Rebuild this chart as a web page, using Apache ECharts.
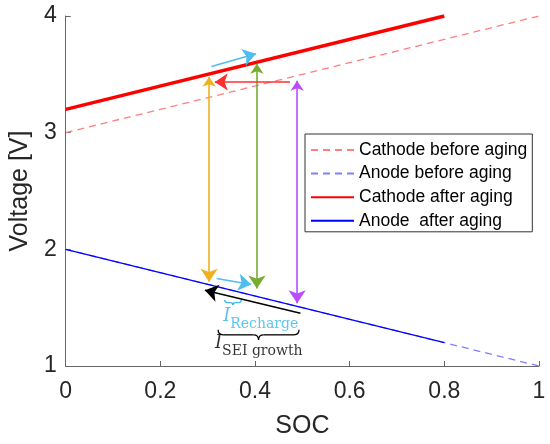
<!DOCTYPE html>
<html>
<head>
<meta charset="utf-8">
<script src="https://cdn.jsdelivr.net/npm/echarts@6/dist/echarts.min.js"></script>
<style>
    html, body {margin: 0; padding: 0; background: #fff;}
    #chart {width: 550px; height: 444px;}
</style>
</head>
<body>
<div id="chart"></div>
<script>
// 电压曲线数据
var socBefore = [0, 1];
var cathodeBefore = [3, 4];
var anodeBefore = [2, 1];
var socAfter = [0, 0.8];
var cathodeAfter = [3.2, 4.0];
var anodeAfter = [2, 1.2];

// 箭头 [起点, 终点]
var orangeArrow = [[0.303, 3.48], [0.303, 1.722]];
var greenArrow = [[0.404, 3.59], [0.404, 1.665]];
var purpleArrow = [[0.489, 3.445], [0.489, 1.537]];
var redArrow = [[0.474, 3.435], [0.315, 3.435]];
var blueArrowTop = [[0.308, 3.568], [0.402, 3.676]];
var blueArrowBottom = [[0.319, 1.75], [0.392, 1.699]];
var blackArrow = [[0.496, 1.452], [0.294, 1.65]];

// 括号 [x1, x2, y]
var braceRecharge = [0.336, 0.371, 1.565];
var braceSEI = [0.322, 0.493, 1.31];

// 文字位置
var labelRecharge = [0.412, 1.40];
var labelSEI = [0.408, 1.165];

function zip(xs, ys) {
    let arr = [];
    for (let i = 0; i < xs.length; i++) {
        arr.push([xs[i], ys[i]]);
    }
    return arr;
}

function arrowSeries(coords, color, both) {
    return {
        type: 'lines',
        coordinateSystem: 'cartesian2d',
        silent: true,
        symbol: both ? ['arrow', 'arrow'] : ['none', 'arrow'],
        symbolSize: [10, 13],
        lineStyle: {color: color, width: 1.6, opacity: 1},
        data: [{coords: coords}],
        z: 5
    };
}

function braceSeries(brace, color) {
    return {
        type: 'custom',
        silent: true,
        data: [brace],
        z: 5,
        renderItem: function (params, api) {
            let p1 = api.coord([api.value(0), api.value(2)]);
            let p2 = api.coord([api.value(1), api.value(2)]);
            let w = p2[0] - p1[0];
            let h = Math.min(10, w * 0.3);
            let q = h / 2;
            let cx = (p1[0] + p2[0]) / 2;
            let y = p1[1];
            let st = {stroke: color, lineWidth: 1.3, fill: null};
            return {
                type: 'group',
                children: [
                    {type: 'bezierCurve', shape: {x1: p1[0], y1: y, cpx1: p1[0], cpy1: y + q, x2: p1[0] + q, y2: y + q}, style: st},
                    {type: 'line', shape: {x1: p1[0] + q, y1: y + q, x2: cx - q, y2: y + q}, style: st},
                    {type: 'bezierCurve', shape: {x1: cx - q, y1: y + q, cpx1: cx, cpy1: y + q, x2: cx, y2: y + h}, style: st},
                    {type: 'bezierCurve', shape: {x1: cx, y1: y + h, cpx1: cx, cpy1: y + q, x2: cx + q, y2: y + q}, style: st},
                    {type: 'line', shape: {x1: cx + q, y1: y + q, x2: p2[0] - q, y2: y + q}, style: st},
                    {type: 'bezierCurve', shape: {x1: p2[0] - q, y1: y + q, cpx1: p2[0], cpy1: y + q, x2: p2[0], y2: y}, style: st}
                ]
            };
        }
    };
}

function textSeries(pos, formatter, color) {
    return {
        type: 'scatter',
        silent: true,
        symbolSize: 0,
        data: [pos],
        z: 6,
        label: {
            show: true,
            position: 'inside',
            formatter: formatter,
            rich: {
                i: {fontFamily: 'DejaVu Serif', fontStyle: 'italic', fontSize: 18, color: color, lineHeight: 24, verticalAlign: 'top'},
                s: {fontFamily: 'DejaVu Serif', fontSize: 14, color: color, lineHeight: 24, verticalAlign: 'bottom'}
            }
        }
    };
}

var myChart = echarts.init(document.getElementById('chart'));

var axisColor = '#666';
var textColor = '#262626';

var option = {
    animation: false,
    grid: {left: 61, right: 11, top: 16, bottom: 76},
    legend: {
        orient: 'vertical',
        left: 305,
        top: 134,
        itemWidth: 43,
        itemHeight: 14,
        itemGap: 5.6,
        padding: [7, 5, 2, 5],
        borderColor: '#333',
        borderWidth: 1,
        itemStyle: {opacity: 0},
        textStyle: {fontFamily: 'Liberation Sans', fontSize: 17.5, lineHeight: 17, color: '#000'},
        data: ['Cathode before aging', 'Anode before aging', 'Cathode after aging', 'Anode  after aging']
    },
    xAxis: {
        type: 'value',
        min: 0,
        max: 1,
        interval: 0.2,
        name: 'SOC',
        nameLocation: 'middle',
        nameGap: 48,
        nameTextStyle: {fontFamily: 'Liberation Sans', fontSize: 25, color: textColor},
        axisLine: {lineStyle: {color: axisColor}},
        axisTick: {inside: true, length: 5, lineStyle: {color: axisColor}},
        axisLabel: {fontFamily: 'Liberation Sans', fontSize: 23, color: textColor, margin: 14},
        splitLine: {show: false}
    },
    yAxis: {
        type: 'value',
        min: 1,
        max: 4,
        interval: 1,
        name: 'Voltage [V]',
        nameLocation: 'middle',
        nameGap: 28,
        nameTextStyle: {fontFamily: 'Liberation Sans', fontSize: 25, color: textColor},
        axisLine: {show: true, lineStyle: {color: axisColor}},
        axisTick: {show: true, inside: true, length: 5, lineStyle: {color: axisColor}},
        axisLabel: {fontFamily: 'Liberation Sans', fontSize: 23, color: textColor, margin: 9, padding: [8, 0, 0, 0]},
        splitLine: {show: false}
    },
    series: [
        {
            name: 'Cathode before aging',
            type: 'line',
            symbol: 'none',
            data: zip(socBefore, cathodeBefore),
            lineStyle: {color: '#ff7f7f', width: 1.3, type: [7, 5]},
            itemStyle: {color: '#ff7f7f'}
        },
        {
            name: 'Anode before aging',
            type: 'line',
            symbol: 'none',
            data: zip(socBefore, anodeBefore),
            lineStyle: {color: '#7f7fff', width: 1.3, type: [7, 5]},
            itemStyle: {color: '#7f7fff'}
        },
        {
            name: 'Cathode after aging',
            type: 'line',
            symbol: 'none',
            data: zip(socAfter, cathodeAfter),
            lineStyle: {color: '#ff0000', width: 3.5},
            itemStyle: {color: '#ff0000'}
        },
        {
            name: 'Anode  after aging',
            type: 'line',
            symbol: 'none',
            data: zip(socAfter, anodeAfter),
            lineStyle: {color: '#0000ff', width: 1.3},
            itemStyle: {color: '#0000ff'}
        },
        arrowSeries(orangeArrow, '#EDB120', true),
        arrowSeries(greenArrow, '#77AC30', true),
        arrowSeries(purpleArrow, '#B94CFF', true),
        arrowSeries(redArrow, '#ff3030', false),
        arrowSeries(blueArrowTop, '#4DBEEE', false),
        arrowSeries(blueArrowBottom, '#4DBEEE', false),
        arrowSeries(blackArrow, '#000000', false),
        braceSeries(braceRecharge, '#33B5F0'),
        braceSeries(braceSEI, '#000000'),
        textSeries(labelRecharge, '{i|I}{s|Recharge}', '#33B5F0'),
        textSeries(labelSEI, '{i|I}{s|SEI growth}', '#000000')
    ]
};

myChart.setOption(option);
</script>
</body>
</html>
